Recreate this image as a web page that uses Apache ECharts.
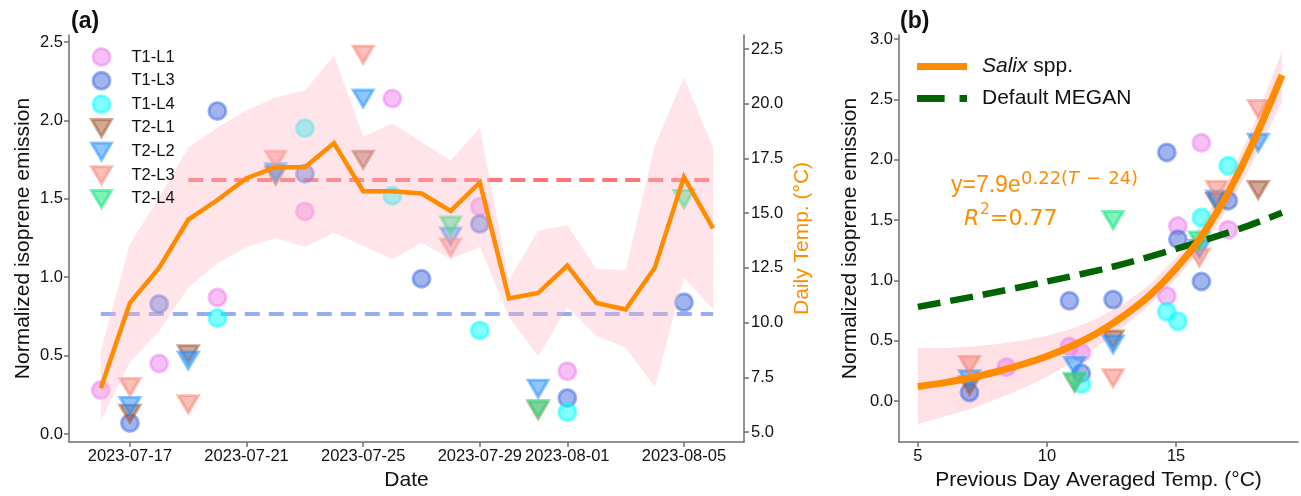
<!DOCTYPE html>
<html><head><meta charset="utf-8">
<script src="https://cdn.jsdelivr.net/npm/echarts@6/dist/echarts.min.js"></script>
<style>html,body{margin:0;padding:0;background:#fff}#c{width:1301px;height:496px}</style>
</head><body><div id="c"></div>
<script>
const FONT = '"Liberation Sans", Arial, Helvetica, sans-serif';
const MATH = '"DejaVu Sans", sans-serif';

// ---------- panel (a): daily temperature ----------
const tempDates = ['2023-07-16','2023-07-17','2023-07-18','2023-07-19','2023-07-20','2023-07-21','2023-07-22','2023-07-23','2023-07-24','2023-07-25','2023-07-26','2023-07-27','2023-07-28','2023-07-29','2023-07-30','2023-07-31','2023-08-01','2023-08-02','2023-08-03','2023-08-04','2023-08-05','2023-08-06'];
const dailyTemp = [7.0, 10.9, 12.5, 14.7, 15.6, 16.6, 17.1, 17.1, 18.2, 16.0, 16.0, 15.9, 15.1, 16.4, 11.1, 11.35, 12.6, 10.9, 10.6, 12.5, 16.65, 14.3];
const tempUpper = [8.7, 13.6, 15.7, 18.0, 18.9, 19.7, 20.3, 20.6, 22.2, 18.5, 19.1, 18.25, 17.4, 18.9, 11.95, 14.2, 14.45, 12.45, 12.4, 18.1, 21.2, 18.0];
const tempLower = [5.5, 8.2, 9.6, 11.6, 12.7, 13.45, 13.85, 13.45, 14.1, 13.5, 12.9, 13.65, 12.9, 13.45, 10.25, 8.45, 10.7, 9.4, 8.85, 7.05, 12.05, 10.6];

const dateTicks = ['2023-07-17','2023-07-21','2023-07-25','2023-07-29','2023-08-01','2023-08-05'];
const emissionTicksA = [0, 0.5, 1.0, 1.5, 2.0, 2.5];
const tempTicks = [5, 7.5, 10, 12.5, 15, 17.5, 20, 22.5];

// ---------- sampled emissions ----------
const sampleDates = ['2023-07-16','2023-07-17','2023-07-18','2023-07-19','2023-07-20','2023-07-22','2023-07-23','2023-07-25','2023-07-26','2023-07-27','2023-07-28','2023-07-29','2023-07-31','2023-08-01','2023-08-05'];
const prevDayTemp = [8.43, 7.0, 10.87, 12.56, 14.64, 16.57, 17.02, 18.18, 15.98, 15.98, 15.9, 15.07, 11.07, 11.33, 12.56];
const t1l1 = [0.28, null, 0.45, null, 0.87, null, 1.42, null, 2.14, null, null, 1.45, null, 0.40, null];
const t1l3 = [null, 0.07, 0.83, null, 2.06, null, 1.66, null, null, 0.99, null, 1.34, null, 0.23, 0.84];
const t1l4 = [null, null, null, null, 0.74, null, 1.95, null, 1.52, null, null, 0.66, null, 0.14, null];
const t2l1 = [null, 0.13, null, 0.51, null, 1.65, null, 1.75, null, null, null, null, null, null, null];
const t2l2 = [null, 0.18, null, 0.47, null, 1.67, null, 2.14, null, null, 1.26, null, 0.29, null, null];
const t2l3 = [null, 0.30, null, 0.19, null, 1.75, null, 2.42, null, null, 1.19, null, 0.15, null, null];
const t2l4 = [null, null, null, null, null, null, null, null, null, null, 1.33, null, 0.16, null, 1.50];

const redMeanDates = ['2023-07-19','2023-08-06'];
const redMean = [1.62, 1.62];
const blueMeanDates = ['2023-07-16','2023-08-06'];
const blueMean = [0.765, 0.765];

// ---------- panel (b): fits ----------
const fitTemp   = [5, 6, 7, 8, 9, 10, 11, 12, 13, 14, 15, 16, 17, 18, 19.1];
const fitSalix  = [0.12, 0.15, 0.19, 0.24, 0.30, 0.37, 0.46, 0.57, 0.71, 0.88, 1.10, 1.37, 1.72, 2.15, 2.70];
const fitUpper  = [0.44, 0.44, 0.45, 0.47, 0.50, 0.54, 0.60, 0.69, 0.81, 0.97, 1.19, 1.47, 1.83, 2.28, 2.90];
const fitLower  = [-0.19, -0.13, -0.07, 0.01, 0.10, 0.20, 0.32, 0.46, 0.62, 0.80, 1.01, 1.27, 1.59, 1.99, 2.48];
const meganTemp = [5, 7.5, 10, 12.5, 15, 17.5, 19.1];
const meganEmission = [0.78, 0.88, 0.99, 1.11, 1.26, 1.43, 1.56];
const prevTempTicks = [5, 10, 15];
const emissionTicksB = [0, 0.5, 1.0, 1.5, 2.0, 2.5, 3.0];

// ---------- helpers ----------
const DAY = 86400000;
const ORIGIN = Date.UTC(2023, 6, 17);
function dayNum(s){ const p = s.split('-').map(Number); return (Date.UTC(p[0], p[1]-1, p[2]) - ORIGIN) / DAY; }
function dayLabel(v){ return new Date(ORIGIN + Math.round(v) * DAY).toISOString().slice(0, 10); }
function pts(values, xs){ const out = []; values.forEach((v, i) => { if (v !== null) out.push([xs[i], v]); }); return out; }
function rgba(c, a){ return 'rgba(' + c[0] + ',' + c[1] + ',' + c[2] + ',' + a + ')'; }

const groups = [
  {name: 'T1-L1', values: t1l1, rgb: [238,130,238], tri: false},
  {name: 'T1-L3', values: t1l3, rgb: [65,105,225],  tri: false},
  {name: 'T1-L4', values: t1l4, rgb: [0,255,255],   tri: false},
  {name: 'T2-L1', values: t2l1, rgb: [160,82,45],   tri: true},
  {name: 'T2-L2', values: t2l2, rgb: [30,144,255],  tri: true},
  {name: 'T2-L3', values: t2l3, rgb: [250,128,114], tri: true},
  {name: 'T2-L4', values: t2l4, rgb: [0,230,118],   tri: true}
];

const sampleX = sampleDates.map(dayNum);
const tempX = tempDates.map(dayNum);

const axisLineStyle = {color: '#6e6e6e', width: 1.5};
function baseAxis(extra){
  return Object.assign({
    type: 'value',
    axisLine: {show: true, onZero: false, lineStyle: axisLineStyle},
    splitLine: {show: false},
    nameTextStyle: {fontSize: 21, color: '#111', fontFamily: FONT},
    nameLocation: 'middle'
  }, extra);
}
function ticks(vals, fmt, margin){
  return {
    axisTick: {show: true, length: 5, customValues: vals, lineStyle: axisLineStyle},
    axisLabel: {customValues: vals, formatter: fmt, fontSize: 16.5, color: '#111', fontFamily: FONT, margin: margin}
  };
}
function bandSeries(name, xs, lo, hi, xi, yi, color, z){
  return {
    type: 'custom', name: name, xAxisIndex: xi, yAxisIndex: yi, z: z, silent: true,
    data: xs.map((x, i) => [x, lo[i], hi[i]]),
    encode: {x: 0, y: [1, 2]},
    renderItem: function(params, api){
      if (params.dataIndex !== 0) return;
      const poly = [];
      for (let i = 0; i < xs.length; i++) poly.push(api.coord([xs[i], hi[i]]));
      for (let i = xs.length - 1; i >= 0; i--) poly.push(api.coord([xs[i], lo[i]]));
      return {type: 'polygon', shape: {points: poly}, style: {fill: color}};
    }
  };
}

const series = [];
// panel (a) dashed reference lines
series.push({type: 'line', name: 'redMean', xAxisIndex: 0, yAxisIndex: 0, z: 2, symbol: 'none', silent: true,
  data: redMeanDates.map((d, i) => [dayNum(d), redMean[i]]),
  lineStyle: {color: 'rgba(255,30,30,0.62)', width: 4, type: [15, 8]}});
series.push({type: 'line', name: 'blueMean', xAxisIndex: 0, yAxisIndex: 0, z: 2, symbol: 'none', silent: true,
  data: blueMeanDates.map((d, i) => [dayNum(d), blueMean[i]]),
  lineStyle: {color: 'rgba(65,105,225,0.55)', width: 4, type: [15, 9]}});

function scatterSeries(g, xs, xi, yi){
  return {
    type: 'scatter', name: g.name, xAxisIndex: xi, yAxisIndex: yi, z: 2,
    symbol: g.tri ? 'triangle' : 'circle',
    symbolRotate: g.tri ? 180 : 0,
    symbolSize: g.tri ? [20, 17] : 17,
    itemStyle: {color: rgba(g.rgb, 0.5), borderColor: rgba(g.rgb, 0.5), borderWidth: 3, opacity: 1},
    data: pts(g.values, xs)
  };
}
groups.forEach(g => series.push(scatterSeries(g, sampleX, 0, 0)));

// panel (a) temperature band + line
series.push(bandSeries('tempBand', tempX, tempLower, tempUpper, 0, 1, 'rgba(255,182,193,0.36)', 3));
series.push({type: 'line', name: 'Daily Temp', xAxisIndex: 0, yAxisIndex: 1, z: 4, symbol: 'none', silent: true,
  lineStyle: {color: '#ff8c00', width: 4.5, join: 'miter'}, data: tempX.map((x, i) => [x, dailyTemp[i]])});

// panel (b)
series.push(bandSeries('fitBand', fitTemp, fitLower, fitUpper, 1, 2, 'rgba(255,182,193,0.42)', 1));
groups.forEach(g => series.push(scatterSeries(g, prevDayTemp, 1, 2)));
series.push({type: 'line', name: 'Default MEGAN', xAxisIndex: 1, yAxisIndex: 2, z: 4, symbol: 'none', silent: true, smooth: 0.3,
  itemStyle: {color: '#006400'},
  lineStyle: {color: '#006400', width: 6.5, type: [23, 10]}, data: meganTemp.map((x, i) => [x, meganEmission[i]])});
series.push({type: 'line', name: 'Salix spp.', xAxisIndex: 1, yAxisIndex: 2, z: 5, symbol: 'none', silent: true, smooth: 0.3,
  itemStyle: {color: '#ff8c00'},
  lineStyle: {color: '#ff8c00', width: 7}, data: fitTemp.map((x, i) => [x, fitSalix[i]])});

const ORANGE = '#ff8c00';
const option = {
  animation: false,
  backgroundColor: '#fff',
  textStyle: {fontFamily: FONT},
  grid: [
    {left: 69, top: 35, width: 675, height: 407},
    {left: 899, top: 35, width: 399, height: 407}
  ],
  xAxis: [
    Object.assign(baseAxis({gridIndex: 0, min: -2.09, max: 21.06, name: 'Date', nameGap: 24}),
      ticks(dateTicks.map(dayNum), v => dayLabel(v), 6)),
    Object.assign(baseAxis({gridIndex: 1, min: 4.27, max: 19.72, name: 'Previous Day Averaged Temp. (°C)', nameGap: 24}),
      ticks(prevTempTicks, v => String(v), 6))
  ],
  yAxis: [
    Object.assign(baseAxis({gridIndex: 0, position: 'left', min: -0.051, max: 2.545, name: 'Normalized isoprene emission',
      nameGap: 35, nameMoveOverlap: false}),
      ticks(emissionTicksA, v => v.toFixed(1), 6)),
    Object.assign(baseAxis({gridIndex: 0, position: 'right', min: 4.543, max: 23.14, name: 'Daily Temp. (°C)',
      nameGap: 48, nameMoveOverlap: false,
      nameTextStyle: {fontSize: 21, color: ORANGE, fontFamily: FONT}}),
      ticks(tempTicks, v => v.toFixed(1), 7)),
    Object.assign(baseAxis({gridIndex: 1, position: 'left', min: -0.34, max: 3.033, name: 'Normalized isoprene emission',
      nameGap: 38, nameMoveOverlap: false}),
      ticks(emissionTicksB, v => v.toFixed(1), 6))
  ],
  legend: [
    {
      data: groups.map(g => ({name: g.name, icon: g.tri ? 'path://M0,0L20,0L10,17Z' : 'circle'})),
      orient: 'vertical', left: 85, top: 41.5,
      itemWidth: 20, itemHeight: 17, itemGap: 2.65,
      itemStyle: {borderWidth: 3},
      textStyle: {fontSize: 16.5, color: '#111', fontFamily: FONT, lineHeight: 21, padding: [0, 0, 0, 15]},
      selectedMode: false
    },
    {
      data: [
        {name: 'Salix spp.', icon: 'path://M0,0h50v7h-50z'},
        {name: 'Default MEGAN', icon: 'path://M0,0h26v6.5h-26zM40,0h7v6.5h-7z'}
      ],
      orient: 'vertical', left: 912, top: 51,
      itemWidth: 50, itemHeight: 14, itemGap: 11,
      itemStyle: {borderWidth: 0},
      formatter: n => n === 'Salix spp.' ? '{i|Salix} spp.' : n,
      textStyle: {fontSize: 21, color: '#111', fontFamily: FONT, padding: [0, 0, 0, 10],
        rich: {i: {fontStyle: 'italic', fontSize: 21, color: '#111', fontFamily: FONT}}},
      selectedMode: false
    }
  ],
  graphic: [
    {type: 'text', left: 71, top: 10, style: {text: '(a)', fontSize: 23, fontWeight: 'bold', fill: '#111', fontFamily: FONT}},
    {type: 'text', left: 900, top: 10, style: {text: '(b)', fontSize: 23, fontWeight: 'bold', fill: '#111', fontFamily: FONT}},
    {type: 'text', x: 951, y: 186, style: {text: 'y=7.9e', fontSize: 23, fill: ORANGE, fontFamily: FONT, verticalAlign: 'middle'}},
    {type: 'text', x: 1021, y: 179.5, style: {
      text: '{a|0.22(}{b|T}{c|−}{a|24)}', fill: ORANGE, fontFamily: MATH, verticalAlign: 'middle',
      rich: {
        a: {fontSize: 18, fill: ORANGE, fontFamily: MATH},
        b: {fontSize: 18, fill: ORANGE, fontFamily: MATH, fontStyle: 'italic'},
        c: {fontSize: 18, fill: ORANGE, fontFamily: MATH, padding: [0, 7, 0, 7]}
      }}},
    {type: 'text', x: 964, y: 219, style: {text: 'R', fontSize: 22, fontStyle: 'italic', fill: ORANGE, fontFamily: MATH, verticalAlign: 'middle'}},
    {type: 'text', x: 980, y: 209.5, style: {text: '2', fontSize: 15.5, fill: ORANGE, fontFamily: MATH, verticalAlign: 'middle'}},
    {type: 'text', x: 990, y: 219, style: {text: '=0.77', fontSize: 22, fill: ORANGE, fontFamily: MATH, verticalAlign: 'middle'}}
  ],
  series: series
};

const chart = echarts.init(document.getElementById('c'), null, {renderer: 'canvas'});
chart.setOption(option);
</script>
</body></html>
